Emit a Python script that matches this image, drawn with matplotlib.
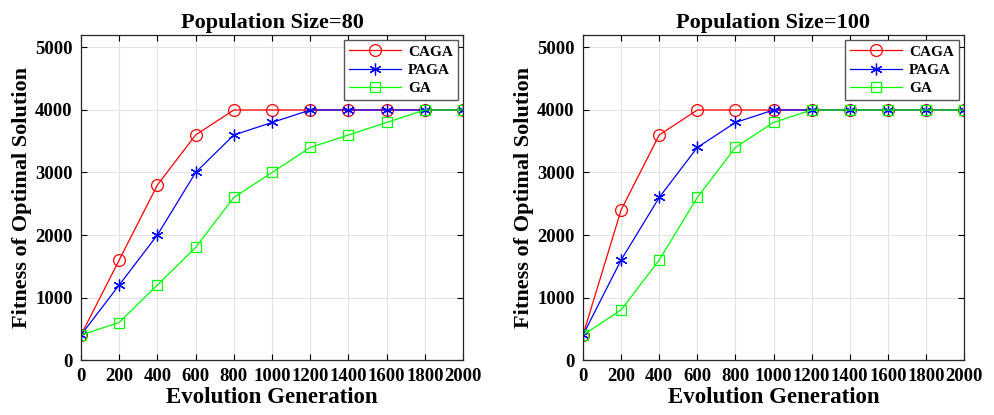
import numpy as np
import matplotlib
matplotlib.use("Agg")
import matplotlib.pyplot as plt

plt.rcParams["font.family"] = "Liberation Serif"
plt.rcParams["font.weight"] = "bold"
plt.rcParams["axes.labelweight"] = "bold"
plt.rcParams["axes.titleweight"] = "bold"

generations = [0, 200, 400, 600, 800, 1000, 1200, 1400, 1600, 1800, 2000]

# population size 80
caga_80 = [400, 1600, 2800, 3600, 4000, 4000, 4000, 4000, 4000, 4000, 4000]
paga_80 = [400, 1200, 2000, 3000, 3600, 3800, 4000, 4000, 4000, 4000, 4000]
ga_80 = [400, 600, 1200, 1800, 2600, 3000, 3400, 3600, 3800, 4000, 4000]

# population size 100
caga_100 = [400, 2400, 3600, 4000, 4000, 4000, 4000, 4000, 4000, 4000, 4000]
paga_100 = [400, 1600, 2600, 3400, 3800, 4000, 4000, 4000, 4000, 4000, 4000]
ga_100 = [400, 800, 1600, 2600, 3400, 3800, 4000, 4000, 4000, 4000, 4000]

titles = ["Population Size=80", "Population Size=100"]
series = [(caga_80, paga_80, ga_80), (caga_100, paga_100, ga_100)]
names = ["CAGA", "PAGA", "GA"]

fig = plt.figure(figsize=(9.94, 4.15), dpi=100)
positions = [
    [81 / 994, 55 / 415, 382 / 994, 325 / 415],
    [583 / 994, 55 / 415, 381 / 994, 325 / 415],
]

asterisk = (6, 2, 0)
styles = [
    dict(color="#ff0000", marker="o", markersize=8.5, markerfacecolor="none"),
    dict(color="#0000ff", marker=asterisk, markersize=8.5),
    dict(color="#00ff00", marker="s", markersize=7.5, markerfacecolor="none"),
]

for pos, title, data in zip(positions, titles, series):
    ax = fig.add_axes(pos)
    for vals, name, st in zip(data, names, styles):
        ax.plot(generations, vals, lw=0.9, markeredgewidth=0.9, label=name, **st)

    ax.set_xlim(0, 2000)
    ax.set_ylim(0, 5200)
    ax.set_xticks(generations)
    ax.set_yticks([0, 1000, 2000, 3000, 4000, 5000])
    ax.grid(True, color="#e3e3e3", lw=0.8)
    ax.set_axisbelow(True)
    ax.tick_params(direction="in", top=True, right=True, length=4,
                   width=0.8, labelsize=13.5)
    ax.tick_params(axis="x", pad=6)
    ax.tick_params(axis="y", pad=6)
    for sp in ax.spines.values():
        sp.set_linewidth(0.9)
        sp.set_color("#262626")

    ax.set_title(title, fontsize=16, pad=5)
    ax.set_xlabel("Evolution Generation", fontsize=16.5, labelpad=1)
    ax.set_ylabel("Fitness of Optimal Solution", fontsize=16, labelpad=2)

    leg = ax.legend(loc="upper right", fontsize=11, fancybox=False,
                    framealpha=1, edgecolor="#555555", handlelength=3.4,
                    borderaxespad=0.35, labelspacing=0.3, borderpad=0.3,
                    handletextpad=0.5)
    leg.get_frame().set_linewidth(1.0)

fig.savefig("out.png", dpi=100)
